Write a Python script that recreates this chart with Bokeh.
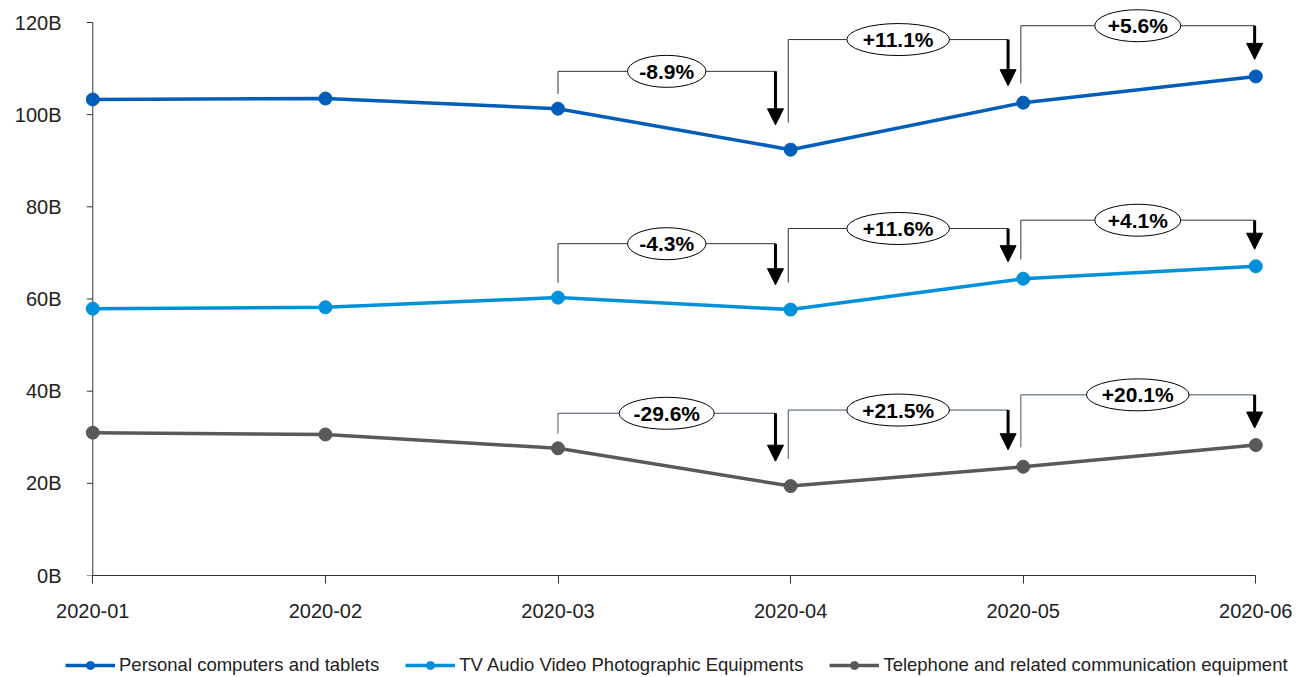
from bokeh.plotting import figure
from bokeh.layouts import column
from bokeh.models import (ColumnDataSource, Range1d, FixedTicker, PrintfTickFormatter,
                          Arrow, NormalHead, Legend, LegendItem)
from bokeh.core.properties import value
from bokeh.embed import file_html
from bokeh.resources import INLINE

# ---------------- data ----------------
months = ["2020-01", "2020-02", "2020-03", "2020-04", "2020-05", "2020-06"]
personal = [103.3, 103.5, 101.3, 92.4, 102.6, 108.3]
tv_audio = [57.9, 58.2, 60.3, 57.7, 64.4, 67.1]
telephone = [31.0, 30.6, 27.6, 19.4, 23.6, 28.3]
series_names = ["Personal computers and tablets",
                "TV Audio Video Photographic Equipments",
                "Telephone and related communication equipment"]
personal_changes = ["-8.9%", "+11.1%", "+5.6%"]
tv_changes = ["-4.3%", "+11.6%", "+4.1%"]
telephone_changes = ["-29.6%", "+21.5%", "+20.1%"]
y_ticks = [0, 20, 40, 60, 80, 100, 120]

# ---------------- style ----------------
colors = ["#005EB8", "#0091DA", "#595959"]
bracket_colors = ["#333333", "#333333", "#44546A"]
FONT = "Liberation Sans"
TEXT_COLOR = "#222222"
AXIS_COLOR = "#333333"

W, H = 1306, 677
BL, BR, BT, BB = 61, 0, 5, 52
FH = 570
FW = W - BL - BR
MAIN_H = BT + FH + BB
LEG_H = H - MAIN_H
PX = 232.6                      # pixels per category step
X0 = -(92.3 - BL) / PX
X1 = X0 + FW / PX
Y1 = 120 * FH / 553.0

x = list(range(len(months)))

p = figure(width=W, height=MAIN_H, frame_width=FW, frame_height=FH,
           output_backend="svg", toolbar_location=None,
           x_range=Range1d(X0, X1), y_range=Range1d(0, Y1),
           min_border_left=BL, min_border_right=BR, min_border_top=BT,
           min_border_bottom=BB)
p.outline_line_color = None
p.xgrid.visible = False
p.ygrid.visible = False
p.background_fill_color = "white"
p.border_fill_color = "white"

# y axis: labels from the library axis, line/ticks drawn at the first category
p.yaxis.ticker = FixedTicker(ticks=y_ticks)
p.yaxis.formatter = PrintfTickFormatter(format="%dB")
p.yaxis.axis_line_color = None
p.yaxis.major_tick_line_color = None
p.yaxis.minor_tick_line_color = None
p.yaxis.major_tick_out = 0
p.yaxis.major_tick_in = 0
p.yaxis.major_label_standoff = 0

p.xaxis.bounds = (0, 5)
p.xaxis.ticker = FixedTicker(ticks=x)
p.xaxis.major_label_overrides = {i: m for i, m in enumerate(months)}
p.xaxis.major_tick_out = 8
p.xaxis.major_tick_in = 0
p.xaxis.minor_tick_line_color = None
p.xaxis.major_label_standoff = 20
p.xaxis.axis_line_color = AXIS_COLOR
p.xaxis.major_tick_line_color = AXIS_COLOR
for ax in (p.xaxis, p.yaxis):
    ax.major_label_text_font = FONT
    ax.major_label_text_font_size = "20px"
    ax.major_label_text_color = TEXT_COLOR

tick_len = 6 / PX
p.segment(x0=[0], y0=[y_ticks[0]], x1=[0], y1=[y_ticks[-1]], line_color=AXIS_COLOR, line_width=1)
p.segment(x0=[-tick_len] * len(y_ticks), y0=y_ticks, x1=[0] * len(y_ticks), y1=y_ticks,
          line_color=AXIS_COLOR, line_width=1)

all_series = [personal, tv_audio, telephone]
all_changes = [personal_changes, tv_changes, telephone_changes]

# annotation layout (offsets in data units)
BRACKET_LIFT = [[8.1, 13.7, 11.0], [11.7, 10.9, 10.0], [7.6, 12.3, 10.9]]
ARROW_GAP = [5.4, 3.7, 3.7]
FIRST_LEFT_GAP = 3.2
LEFT_DX = [0.0, -0.01, -0.01]
ARROW_DX = [-0.065, -0.065, -0.005]
CHAR_W = {"+": 0.584, "-": 0.333, ".": 0.278, "%": 0.889}

for vals, col in zip(all_series, colors):
    src = ColumnDataSource(dict(x=x, y=vals))
    p.line("x", "y", source=src, line_color=col, line_width=3.5)
    p.scatter("x", "y", source=src, size=13, fill_color=col, line_color=col)

for s, (vals, labels) in enumerate(zip(all_series, all_changes)):
    xs, ys = [], []
    ax_s, ay0, ay1 = [], [], []
    ex, ey, ew = [], [], []
    prev_tip = None
    for k, lab in enumerate(labels):
        i0, i1 = 2 + k, 3 + k
        top = max(vals[i0], vals[i1]) + BRACKET_LIFT[s][k]
        lx = i0 + LEFT_DX[k]
        axx = i1 + ARROW_DX[k]
        left_bottom = vals[i0] + FIRST_LEFT_GAP if prev_tip is None else prev_tip + 0.5
        tip = vals[i1] + ARROW_GAP[k]
        prev_tip = tip
        xs.append([lx, lx, axx])
        ys.append([left_bottom, top, top])
        ax_s.append(axx); ay0.append(top); ay1.append(tip)
        ex.append((lx + axx) / 2); ey.append(top)
        tw = sum(CHAR_W.get(c, 0.556) for c in lab) * 21
        ew.append(tw * 1.43)
    p.multi_line(xs, ys, line_color=bracket_colors[s], line_width=1)
    asrc = ColumnDataSource(dict(x0=ax_s, y0=ay0, x1=ax_s, y1=ay1))
    p.add_layout(Arrow(x_start="x0", y_start="y0", x_end="x1", y_end="y1", source=asrc,
                       line_color="black", line_width=3,
                       end=NormalHead(size=16, fill_color="black", line_color="black")))
    esrc = ColumnDataSource(dict(x=ex, y=ey, w=ew, t=labels))
    p.ellipse("x", "y", width="w", height=32, width_units="screen", height_units="screen",
              source=esrc, fill_color="white", line_color="black", line_width=1)
    p.text("x", "y", text="t", source=esrc, text_font=value(FONT), text_font_style="bold",
           text_font_size="21px", text_align="center", text_baseline="middle",
           text_color="black")

# ---------------- legend strip (separate figure below the chart) ----------------
leg_fig = figure(width=W, height=LEG_H, output_backend="svg", toolbar_location=None,
                 x_axis_location=None, y_axis_location=None,
                 x_range=Range1d(0, 1), y_range=Range1d(-2, -1),
                 min_border=0, min_border_left=0, min_border_right=0,
                 min_border_top=0, min_border_bottom=0)
leg_fig.outline_line_color = None
leg_fig.background_fill_color = "white"
leg_fig.border_fill_color = "white"
leg_fig.grid.grid_line_color = None
leg_fig.grid.visible = False
legend_items = []
for vals, name, col in zip(all_series, series_names, colors):
    src = ColumnDataSource(dict(x=x, y=vals))
    lr = leg_fig.line("x", "y", source=src, line_color=col, line_width=3.5)
    sr = leg_fig.scatter("x", "y", source=src, size=13, fill_color=col, line_color=col)
    legend_items.append(LegendItem(label=name, renderers=[lr, sr]))

legend = Legend(items=legend_items, orientation="horizontal", location=(4, 1),
                label_text_font=FONT, label_text_font_size="18.5px",
                label_text_color=TEXT_COLOR, glyph_width=50, glyph_height=20,
                label_standoff=4, spacing=26, padding=0, margin=0,
                border_line_color=None, background_fill_alpha=0)
leg_fig.add_layout(legend)

layout = column(p, leg_fig, spacing=0)
open("out.html", "w").write(file_html(layout, INLINE))
